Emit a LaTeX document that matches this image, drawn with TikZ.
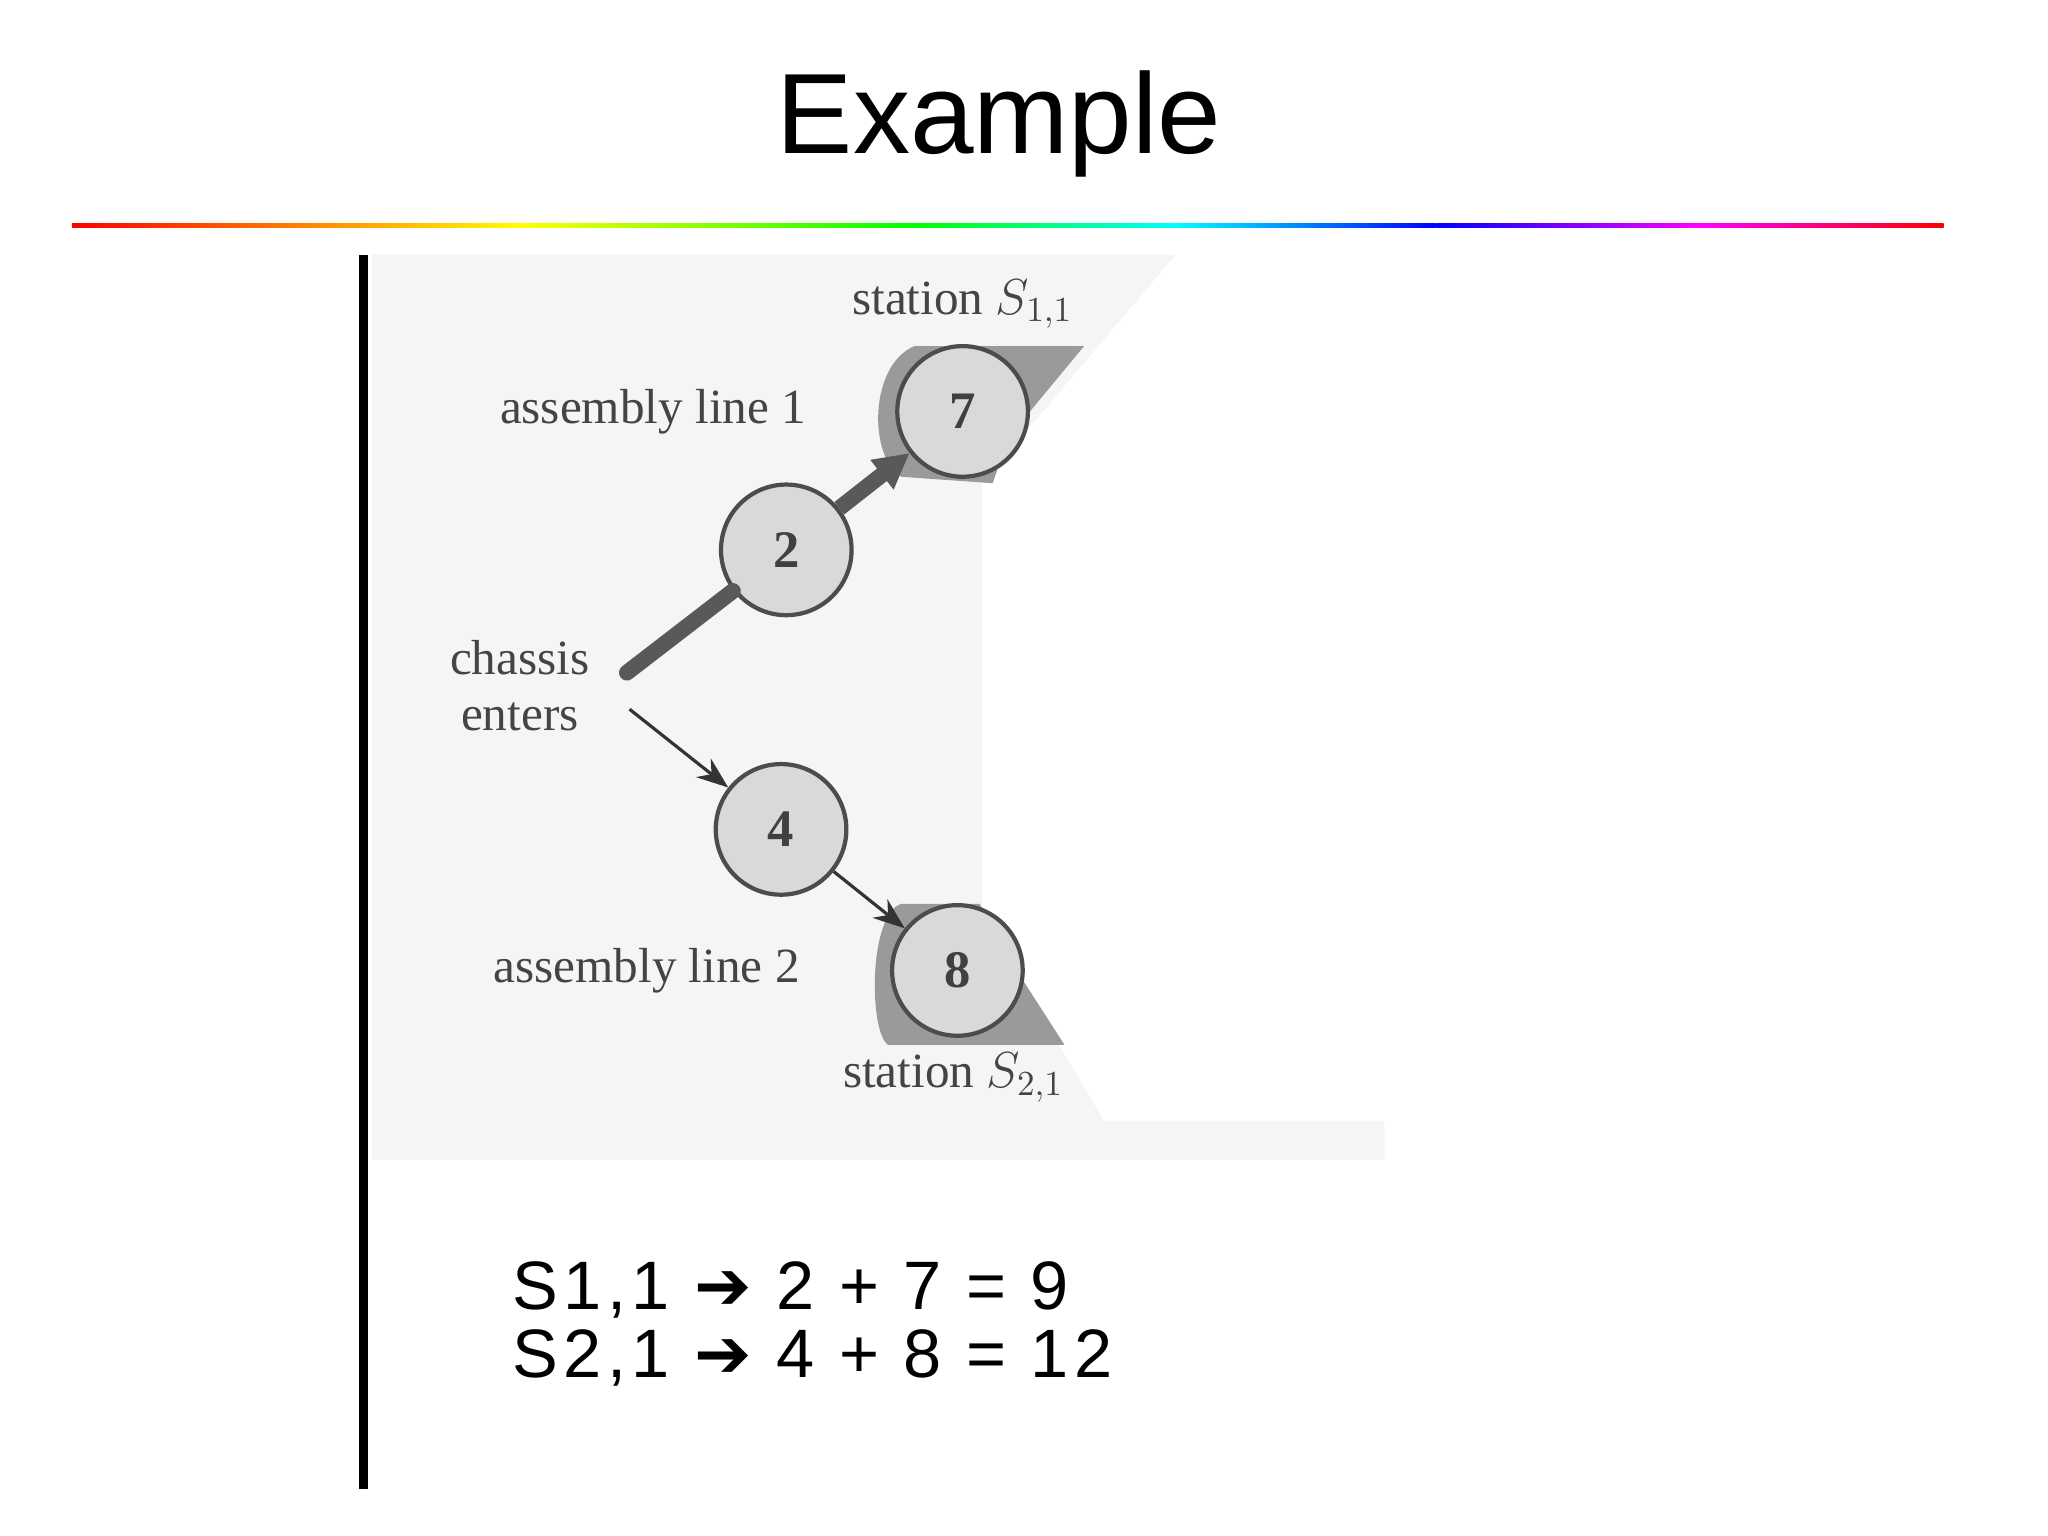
\documentclass[tikz,border=0pt]{standalone}
\usepackage{fontspec}
\setmainfont{Liberation Serif}
\setsansfont{Liberation Sans}
\newfontfamily\djv{DejaVu Sans}
\newfontfamily\eqfont[LetterSpace=8]{Liberation Sans}
\usetikzlibrary{arrows.meta}
\definecolor{bgg}{HTML}{F5F5F5}
\definecolor{blob}{HTML}{9A9A9A}
\definecolor{circ}{HTML}{D9D9D9}
\definecolor{lbl}{HTML}{444444}
\begin{document}
\begin{tikzpicture}[x=0.013063cm,y=-0.013063cm,
  station/.style={circle,draw=black!70,line width=1.2pt,fill=circ,minimum size=100*0.013063cm,inner sep=0pt,font=\fontsize{15}{15}\selectfont\bfseries,text=black!75},
  lab/.style={text=lbl,font=\fontsize{14}{16}\selectfont},
  eq/.style={anchor=west,font=\eqfont\fontsize{19.5}{19.5}\selectfont}]
\useasboundingbox (0,0) rectangle (1568,1176);
\fill[white] (0,0) rectangle (1568,1176);
\node[font=\sffamily\fontsize{32.5}{32.5}\selectfont] (title) at (765,95) {Example};
% rainbow rule
\shade[left color=red,right color=yellow] (55,171.5) rectangle (400,174.5);
\shade[left color=yellow,right color=green] (400,171.5) rectangle (700,174.5);
\shade[left color=green,right color=cyan] (700,171.5) rectangle (900,174.5);
\shade[left color=cyan,right color=blue] (900,171.5) rectangle (1100,174.5);
\shade[left color=blue,right color=magenta] (1100,171.5) rectangle (1300,174.5);
\shade[left color=magenta,right color=red] (1300,171.5) rectangle (1488,174.5);
% vertical bar
\fill[black] (275,195) rectangle (282,1140);
% grey panel
\fill[bgg] (285,195) -- (900,195) -- (752,370) -- (752,700) -- (845,858) -- (1060,858) -- (1060,888) -- (285,888) -- cycle;
% blobs
\fill[blob] (700,265) -- (830,265) -- (772,335) -- (760,370) -- (690,365) .. controls (665,350) and (665,280) .. (700,265) -- cycle;
\fill[blob] (690,692) -- (750,692) -- (770,730) -- (815,800) -- (680,800) .. controls (665,790) and (665,700) .. (690,692) -- cycle;
% nodes
\node[station] (n7) at (737,315) {7};
\node[station] (n2) at (602,421) {2};
\node[station] (n4) at (598,635) {4};
\node[station] (n8) at (733,743) {8};
\coordinate (ent) at (480,515);
\coordinate (ent2) at (482,543);
% thick line 1
\draw[line width=4.5pt,draw=black!65,line cap=round] (ent) -- (n2);
\draw[line width=4.5pt,draw=black!65,-{Triangle[length=10pt,width=10pt]}] (n2) -- (n7);
\draw[-{Stealth[length=9pt]},black!80,line width=0.9pt] (ent2) -- (n4);
\draw[-{Stealth[length=9pt]},black!80,line width=0.9pt] (n4) -- (n8);
% labels
\node[lab] (s11) at (737,233) {station $S_{1,1}$};
\node[lab] (al1) at (500,315) {assembly line 1};
\node[lab,align=center] (ch) at (398,525) {chassis\\enters};
\node[lab] (al2) at (495,743) {assembly line 2};
\node[lab] (s21) at (730,825) {station $S_{2,1}$};
% equations
\node[eq] (e1) at (383,988) {S1,1 {\djv➔} 2 + 7 = 9};
\node[eq] (e2) at (383,1040) {S2,1 {\djv➔} 4 + 8 = 12};
\end{tikzpicture}
\end{document}
